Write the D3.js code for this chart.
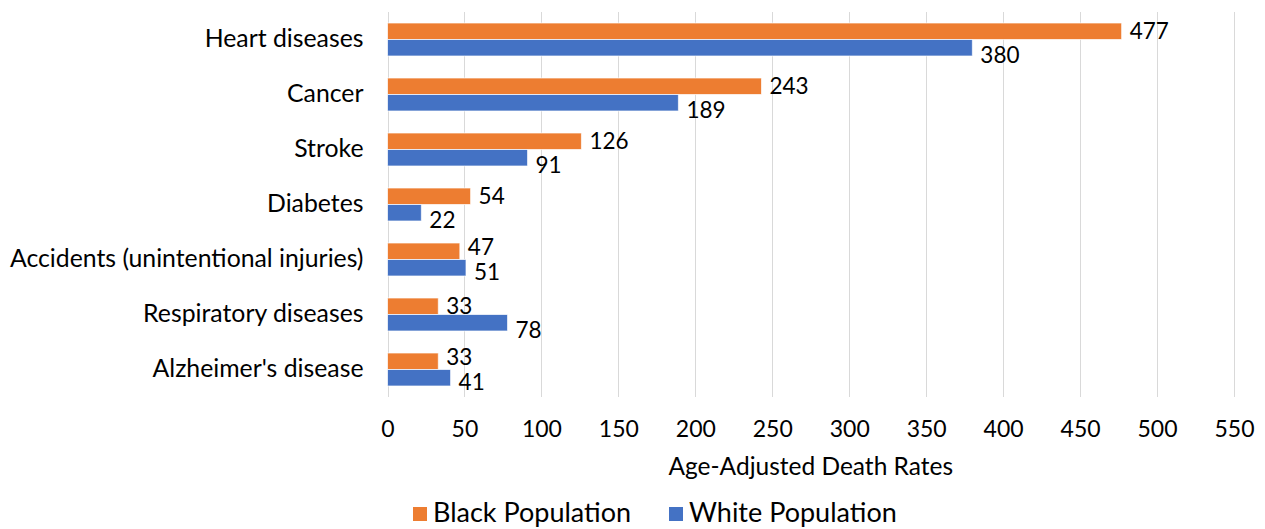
<!DOCTYPE html>
<html>
<head>
<meta charset="utf-8">
<script src="https://cdn.jsdelivr.net/npm/d3@7"></script>
<style>
  html, body { margin: 0; padding: 0; background: #fff; }
  svg { display: block; }
  text { font-family: "Gill Sans", "Gill Sans MT", Lato, sans-serif; fill: #000; }
</style>
</head>
<body>
<svg id="chart" width="1265" height="529"></svg>
<script>
// Leading causes of death, age-adjusted rates per 100,000
const categories = [
  "Heart diseases",
  "Cancer",
  "Stroke",
  "Diabetes",
  "Accidents (unintentional injuries)",
  "Respiratory diseases ",
  "Alzheimer's disease"
];
const seriesNames = ["Black Population", "White Population"];
const blackRates = [477, 243, 126, 54, 47, 33, 33];
const whiteRates = [380, 189, 91, 22, 51, 78, 41];
const xTicks = [0, 50, 100, 150, 200, 250, 300, 350, 400, 450, 500, 550];
const colors = ["#ED7D31", "#4472C4"];
const axisTitle = "Age-Adjusted Death Rates";

const rows = categories.map((c, i) => ({
  category: c,
  values: [
    { series: seriesNames[0], value: blackRates[i], idx: 0 },
    { series: seriesNames[1], value: whiteRates[i], idx: 1 }
  ]
}));

const svg = d3.select("#chart");
const plot = { left: 387.5, right: 1234, top: 12, bottom: 397 };

const x = d3.scaleLinear().domain([0, 550]).range([plot.left, plot.right]);
const y = d3.scaleBand().domain(categories).range([plot.top, plot.bottom])
  .paddingInner(0.4).paddingOuter(0.2);
const ySub = d3.scaleBand().domain(seriesNames).range([0, y.bandwidth()]);

// vertical gridlines
svg.append("g").selectAll("line").data(xTicks).join("line")
  .attr("x1", d => Math.round(x(d)) + 0.5).attr("x2", d => Math.round(x(d)) + 0.5)
  .attr("y1", plot.top).attr("y2", plot.bottom)
  .attr("stroke", "#d9d9d9").attr("stroke-width", 1);

// x axis tick labels
const xAxis = d3.axisBottom(x).tickValues(xTicks).tickSize(0).tickPadding(0);
const gx = svg.append("g").attr("transform", `translate(0,${plot.bottom + 24})`).call(xAxis);
gx.select(".domain").remove();
gx.selectAll("text").attr("font-size", 23).attr("dy", "0.71em")
  .style("font-family", '"Gill Sans", Lato, sans-serif').attr("fill", "#000");

// category labels
const yAxis = d3.axisLeft(y).tickSize(0).tickPadding(24);
const gy = svg.append("g").attr("transform", `translate(${plot.left},0)`).call(yAxis);
gy.select(".domain").remove();
gy.selectAll("text").attr("font-size", 24.8)
  .style("font-family", '"Gill Sans", Lato, sans-serif').attr("fill", "#000");

// bars
const groups = svg.append("g").selectAll("g").data(rows).join("g")
  .attr("transform", d => `translate(0,${y(d.category)})`);

groups.selectAll("rect").data(d => d.values).join("rect")
  .attr("x", x(0))
  .attr("y", d => ySub(d.series))
  .attr("width", d => x(d.value) - x(0))
  .attr("height", ySub.bandwidth())
  .attr("fill", d => colors[d.idx])
  .attr("stroke", "#ffffff").attr("stroke-opacity", 0.7).attr("stroke-width", 1);

// value labels at the bar ends; when the two labels of a category would
// collide horizontally, nudge them apart vertically
const labelGap = 8, labelW = 34;
groups.each(function (row) {
  const [a, b] = row.values;
  const clash = Math.abs(x(a.value) - x(b.value)) < labelW;
  d3.select(this).selectAll("text.val").data(row.values).join("text")
    .attr("class", "val")
    .attr("x", d => x(d.value) + labelGap)
    .attr("y", d => ySub(d.series) + ySub.bandwidth() / 2 +
      (d.idx === 0 ? (clash ? -4 : 0) : (clash ? 4 : 7)))
    .attr("dy", "0.35em")
    .attr("font-size", 22.5)
    .text(d => d.value);
});

// axis title
svg.append("text")
  .attr("x", x(275)).attr("y", 466).attr("dy", "0.35em")
  .attr("text-anchor", "middle").attr("font-size", 24.5)
  .text(axisTitle);

// legend
const legendItems = [
  { name: seriesNames[0], color: colors[0], x: 413 },
  { name: seriesNames[1], color: colors[1], x: 669 }
];
const lg = svg.append("g").selectAll("g").data(legendItems).join("g")
  .attr("transform", d => `translate(${d.x},513)`);
lg.append("rect").attr("x", 0).attr("y", -6).attr("width", 14).attr("height", 14)
  .attr("fill", d => d.color);
lg.append("text").attr("x", 20).attr("y", 0).attr("dy", "0.35em")
  .attr("font-size", 27).text(d => d.name);
</script>
</body>
</html>
